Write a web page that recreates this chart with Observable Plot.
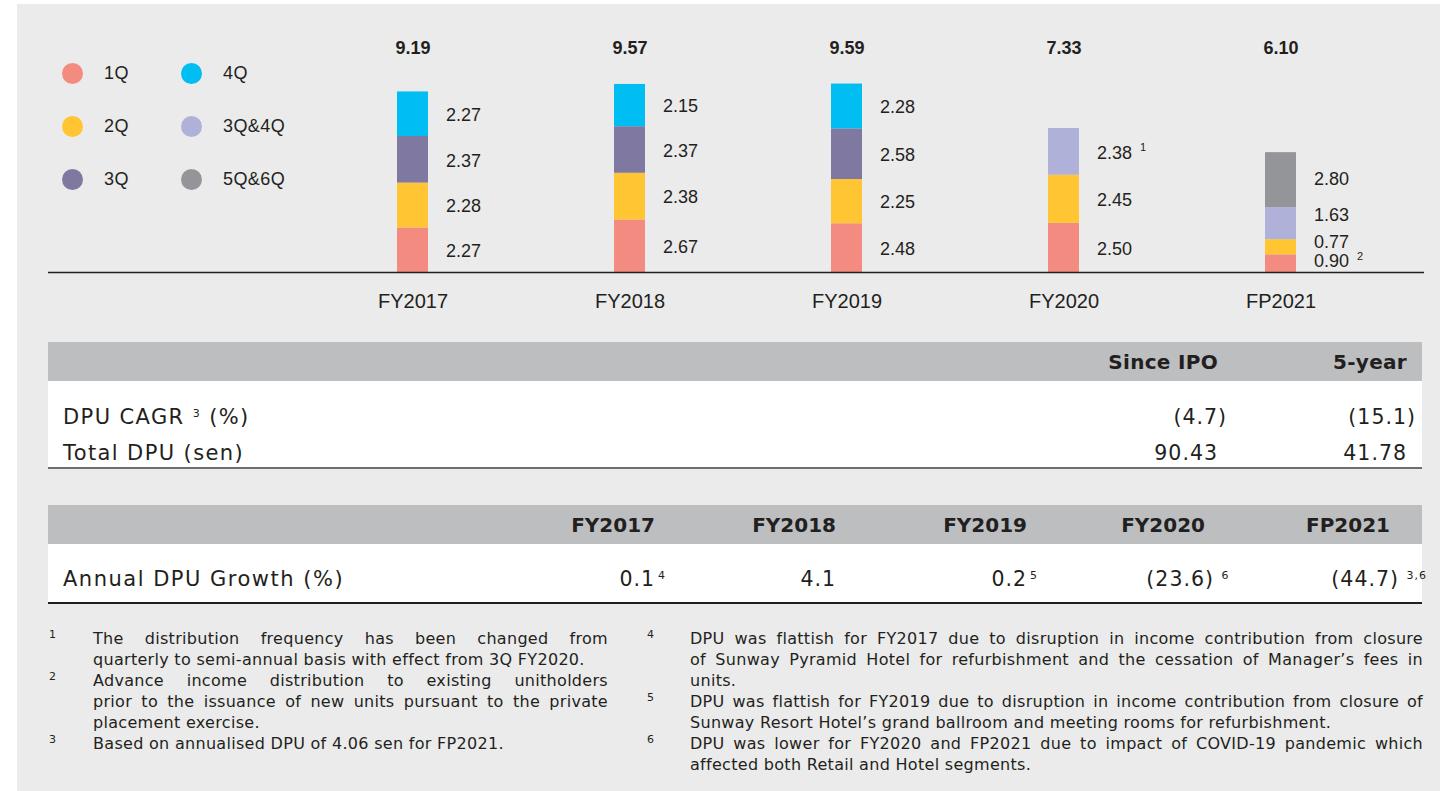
<!DOCTYPE html>
<html><head><meta charset="utf-8">
<script src="https://cdn.jsdelivr.net/npm/d3@7"></script>
<script src="https://cdn.jsdelivr.net/npm/@observablehq/plot@0.6"></script>
<style>
html,body{margin:0;padding:0;background:#fff;}
body{width:1440px;height:791px;position:relative;overflow:hidden;font-family:"Liberation Sans",Arial,sans-serif;color:#231f20;}
#panel{position:absolute;left:17px;top:4px;right:0;bottom:0;background:#ebebeb;}
#chart{position:absolute;left:0;top:0;}
.abs{position:absolute;white-space:nowrap;}
.hang{position:absolute;left:100%;top:0;white-space:nowrap;}
.sup{font-size:11px;position:relative;top:-7px;}
.supgap{margin-left:3px;}
#legend{position:absolute;left:61.5px;top:46.5px;display:grid;grid-auto-flow:column;grid-template-rows:repeat(3,53px);grid-template-columns:119px 119px;}
#legend .item{display:flex;align-items:center;font-size:18px;letter-spacing:0.4px;}
#legend .dot{width:21px;height:21px;border-radius:50%;margin-right:21.5px;flex:none;}
.tbl{font-family:"DejaVu Sans",sans-serif;}
.note{font-family:"DejaVu Sans",sans-serif;font-size:16px;letter-spacing:0.3px;}
</style></head><body>
<div id="panel"></div>
<div id="chart"></div>
<div id="legend"></div>
<div id="tables"></div>
<div id="notes"></div>
<script>
// ---------- data ----------
const years = ["FY2017", "FY2018", "FY2019", "FY2020", "FP2021"];
const quarters = ["1Q", "2Q", "3Q", "4Q", "3Q&4Q", "5Q&6Q"];
const quarterColors = ["#f38b81", "#ffc533", "#7f78a1", "#00bdf2", "#afb1d9", "#939598"];
const q1 = [2.27, 2.67, 2.48, 2.50, 0.90];
const q2 = [2.28, 2.38, 2.25, 2.45, 0.77];
const q3 = [2.37, 2.37, 2.58, null, null];
const q4 = [2.27, 2.15, 2.28, null, null];
const q3q4 = [null, null, null, 2.38, 1.63];
const q5q6 = [null, null, null, null, 2.80];
const totals = [9.19, 9.57, 9.59, 7.33, 6.10];
const segmentNotes = [{year: "FY2020", quarter: "3Q&4Q", note: "1"}, {year: "FP2021", quarter: "1Q", note: "2"}];

const summaryHeaders = ["Since IPO", "5-year"];
const cagrLabel = "DPU CAGR";
const cagrNote = "3";
const cagrValues = [-4.7, -15.1];
const totalDpuLabel = "Total DPU (sen)";
const totalDpuValues = [90.43, 41.78];

const growthLabel = "Annual DPU Growth (%)";
const growthValues = [0.1, 4.1, 0.2, -23.6, -44.7];
const growthNotes = ["4", "", "5", "6", "3,6"];

const footnotesLeft = [
  {n: "1", lines: ["The distribution frequency has been changed from", "quarterly to semi-annual basis with effect from 3Q FY2020."]},
  {n: "2", lines: ["Advance income distribution to existing unitholders", "prior to the issuance of new units pursuant to the private", "placement exercise."]},
  {n: "3", lines: ["Based on annualised DPU of 4.06 sen for FP2021."]}
];
const footnotesRight = [
  {n: "4", lines: ["DPU was flattish for FY2017 due to disruption in income contribution from closure", "of Sunway Pyramid Hotel for refurbishment and the cessation of Manager\u2019s fees in", "units."]},
  {n: "5", lines: ["DPU was flattish for FY2019 due to disruption in income contribution from closure of", "Sunway Resort Hotel\u2019s grand ballroom and meeting rooms for refurbishment."]},
  {n: "6", lines: ["DPU was lower for FY2020 and FP2021 due to impact of COVID-19 pandemic which", "affected both Retail and Hotel segments."]}
];

// ---------- chart ----------
const series = [
  {name: "1Q", values: q1}, {name: "2Q", values: q2}, {name: "3Q", values: q3},
  {name: "4Q", values: q4}, {name: "3Q&4Q", values: q3q4}, {name: "5Q&6Q", values: q5q6}
];
const rows = [];
years.forEach((yr, i) => {
  series.forEach(s => {
    const v = s.values[i];
    if (v != null) {
      const n = segmentNotes.find(d => d.year === yr && d.quarter === s.name);
      rows.push({year: yr, quarter: s.name, value: v, note: n ? n.note : ""});
    }
  });
});
const totalRows = years.map((yr, i) => ({year: yr, total: totals[i]}));

// label nudges (layout only) for the crowded short bar
const nudge = {"FP2021|1Q": -3, "FP2021|2Q": -6, "FP2021|3Q&4Q": -9, "FP2021|5Q&6Q": -2};
const key = d => d.year + "|" + d.quarter;
const shifts = [...new Set(rows.map(d => nudge[key(d)] ?? 0))];
const labelMarks = shifts.map(s => Plot.text(rows, Plot.stackY({
  x: "year", y: "value", z: "quarter",
  text: d => ((nudge[key(d)] ?? 0) === s ? d.value.toFixed(2) : ""),
  textAnchor: "start", dx: 33, dy: 1 + s, fontSize: 18, fill: "#231f20"
})));
const noteMarks = shifts.map(s => Plot.text(rows, Plot.stackY({
  x: "year", y: "value", z: "quarter",
  text: d => ((nudge[key(d)] ?? 0) === s ? d.note : ""),
  textAnchor: "start", dx: 76, dy: -4 + s, fontSize: 11, fill: "#231f20"
})));

const chart = Plot.plot({
  width: 1440, height: 320,
  marginLeft: 303.5, marginRight: 51.5, marginTop: 48, marginBottom: 48,
  style: {background: "transparent", fontFamily: "'Liberation Sans', Arial, sans-serif", color: "#231f20", overflow: "visible"},
  x: {domain: years, padding: 0, axis: null},
  y: {domain: [0, 11.4], axis: null},
  color: {domain: quarters, range: quarterColors},
  marks: [
    Plot.barY(rows, {x: "year", y: "value", fill: "quarter", insetLeft: 93, insetRight: 93}),
    ...labelMarks,
    ...noteMarks,
    Plot.text(totalRows, {x: "year", text: d => d.total.toFixed(2), frameAnchor: "top", lineAnchor: "middle", fontSize: 18, fontWeight: "bold", fill: "#231f20"}),
    Plot.ruleY([0], {stroke: "#231f20", strokeWidth: 1.5, insetLeft: -255.5, insetRight: -35.5}),
    Plot.axisX({tickSize: 0, tickPadding: 21, fontSize: 20, fill: "#231f20", label: null})
  ]
});
document.getElementById("chart").appendChild(chart);

// ---------- legend ----------
const legend = document.getElementById("legend");
quarters.forEach((q, i) => {
  const it = document.createElement("div");
  it.className = "item";
  it.innerHTML = `<span class="dot" style="background:${quarterColors[i]}"></span><span></span>`;
  it.lastChild.textContent = q;
  legend.appendChild(it);
});

// ---------- helpers ----------
function place(parent, html, o) {
  const d = document.createElement("div");
  d.className = "abs" + (o.cls ? " " + o.cls : "");
  d.innerHTML = html;
  const lh = o.lh || 30;
  d.style.top = (o.cy - lh / 2) + "px";
  d.style.height = lh + "px";
  d.style.lineHeight = lh + "px";
  if (o.left != null) d.style.left = o.left + "px";
  if (o.right != null) { d.style.right = (1440 - o.right) + "px"; d.style.textAlign = "right"; }
  if (o.width != null) d.style.width = o.width + "px";
  if (o.size) d.style.fontSize = o.size + "px";
  if (o.weight) d.style.fontWeight = o.weight;
  if (o.ls != null) d.style.letterSpacing = o.ls + "px";
  parent.appendChild(d);
  return d;
}
function rect(parent, left, top, width, height, color) {
  const d = document.createElement("div");
  d.style.cssText = `position:absolute;left:${left}px;top:${top}px;width:${width}px;height:${height}px;background:${color};`;
  parent.appendChild(d);
}
function fmt(v, digits, note) {
  const s = Math.abs(v).toFixed(digits);
  const sup = note ? `<span class="sup">${note}</span>` : "";
  if (v < 0) return `(${s}<span class="hang">)${note ? "&nbsp;" + sup : ""}</span>`;
  return `${s}${note ? `<span class="hang"><span class="sup supgap">${note}</span></span>` : ""}`;
}

// ---------- tables ----------
const T = document.getElementById("tables");
const tl = 48, tw = 1374;
// table 1
rect(T, tl, 342, tw, 39, "#bcbec0");
rect(T, tl, 381, tw, 86, "#ffffff");
rect(T, tl, 467, tw, 2, "#6d6e71");
const sumRight = [1218, 1407];
summaryHeaders.forEach((h, i) => place(T, h, {right: sumRight[i], cy: 362, size: 20, weight: "bold", ls: 0.3, cls: "tbl"}));
place(T, `${cagrLabel} <span class="sup">${cagrNote}</span> (%)`, {left: 63, cy: 417, size: 21, ls: 1.4, cls: "tbl"});
place(T, totalDpuLabel, {left: 63, cy: 453, size: 21, ls: 1.4, cls: "tbl"});
cagrValues.forEach((v, i) => place(T, fmt(v, 1, ""), {right: sumRight[i], cy: 417, size: 20.5, ls: 1, cls: "tbl"}));
totalDpuValues.forEach((v, i) => place(T, fmt(v, 2, ""), {right: sumRight[i], cy: 453, size: 20.5, ls: 1, cls: "tbl"}));
// table 2
rect(T, tl, 505, tw, 39, "#bcbec0");
rect(T, tl, 544, tw, 58, "#ffffff");
rect(T, tl, 602, tw, 1.5, "#231f20");
const grRight = [655, 836, 1027, 1205, 1390];
years.forEach((y, i) => place(T, y, {right: grRight[i], cy: 525, size: 20, weight: "bold", ls: 0, cls: "tbl"}));
place(T, growthLabel, {left: 63, cy: 579, size: 21, ls: 1.5, cls: "tbl"});
growthValues.forEach((v, i) => place(T, fmt(v, 1, growthNotes[i]), {right: grRight[i], cy: 579, size: 20.5, ls: 1, cls: "tbl"}));

// ---------- footnotes ----------
const N = document.getElementById("notes");
function notes(list, numLeft, textLeft, width) {
  let k = 0;
  list.forEach(fn => {
    const cy0 = 638 + k * 21;
    place(N, fn.n, {left: numLeft, cy: cy0 - 3, lh: 14, size: 11, cls: "note"});
    fn.lines.forEach((ln, j) => {
      const last = j === fn.lines.length - 1;
      const d = place(N, "", {left: textLeft, width: width, cy: 638 + k * 21, lh: 21, cls: "note"});
      d.textContent = ln;
      d.style.textAlign = "justify";
      d.style.textAlignLast = last ? "left" : "justify";
      k++;
    });
  });
}
notes(footnotesLeft, 49, 93, 515);
notes(footnotesRight, 647, 690, 733);
</script>
</body></html>
